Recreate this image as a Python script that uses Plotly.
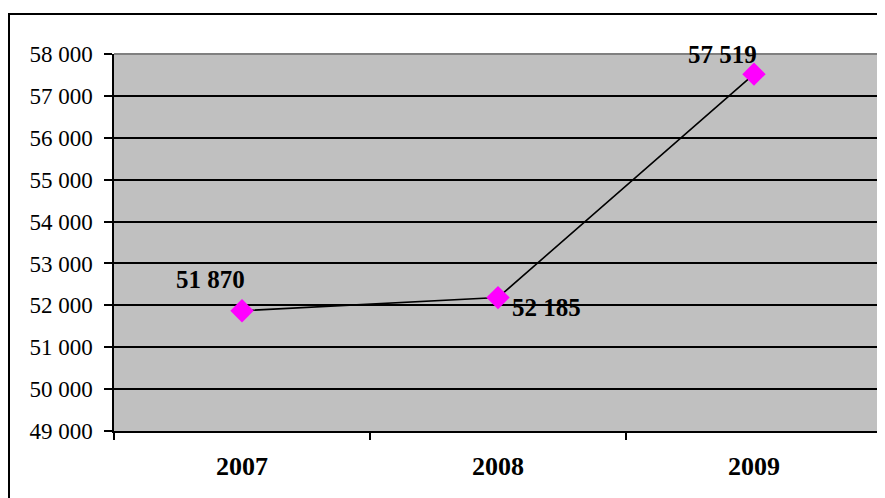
import plotly.graph_objects as go

years = ["2007", "2008", "2009"]
values = [51870, 52185, 57519]
label_dx = [-32, 48, -32]
label_dy = [31, -10, 20]

# page body has an 8px margin; figure coordinates = screen - 8
fig = go.Figure()
fig.add_trace(go.Scatter(
    x=years, y=values, mode="lines+markers",
    line=dict(color="black", width=1.6),
    marker=dict(symbol="diamond", size=18, color="#FF00FF"),
    hoverinfo="skip", showlegend=False,
))

for i, (v, dx, dy) in enumerate(zip(values, label_dx, label_dy)):
    fig.add_annotation(
        x=i, y=v, xref="x", yref="y",
        text="<b>" + f"{v:,}".replace(",", " ") + "</b>", showarrow=False,
        xshift=dx, yshift=dy,
        font=dict(family="Liberation Serif", size=25, color="black"),
    )

L, R, T, B = 106, 874, 46, 423
W, H = 885, 498
fig.update_layout(
    width=W, height=H,
    margin=dict(l=L, r=W - R, t=T, b=H - B, autoexpand=False),
    paper_bgcolor="white", plot_bgcolor="#C0C0C0",
    separators=". ",
    font=dict(family="Liberation Serif", size=23, color="black"),
    xaxis=dict(
        type="category", range=[-0.5, 2.5], tickson="boundaries",
        ticks="outside", ticklen=7, tickcolor="black", tickwidth=1.5,
        showline=True, linecolor="black", linewidth=1.5,
        showgrid=False, zeroline=False,
        tickfont=dict(family="Liberation Serif", size=26),
        tickprefix="<b>", ticksuffix="</b>",
        ticklabelstandoff=11,
    ),
    yaxis=dict(
        range=[49000, 58000], dtick=1000, tickformat=",d",
        ticks="outside", ticklen=8, tickcolor="black", tickwidth=1.5,
        showline=True, linecolor="black", linewidth=1.5,
        showgrid=True, gridcolor="black", gridwidth=1.6, zeroline=False,
        tickfont=dict(family="Liberation Serif", size=23),
        ticklabelstandoff=7,
    ),
    shapes=[
        dict(type="line", xref="paper", yref="paper", x0=0, x1=1, y0=1, y1=1,
             line=dict(color="#808080", width=2), layer="above"),
        dict(type="line", xref="paper", yref="paper", x0=1, x1=1, y0=0, y1=1,
             line=dict(color="#808080", width=2), layer="above"),
        dict(type="rect", xref="paper", yref="paper",
             x0=(1 - L) / (R - L), x1=1.05, y0=-0.3,
             y1=1 + (T - 6) / (B - T),
             line=dict(color="black", width=2), layer="below"),
    ],
)

fig.write_html("out.html")
